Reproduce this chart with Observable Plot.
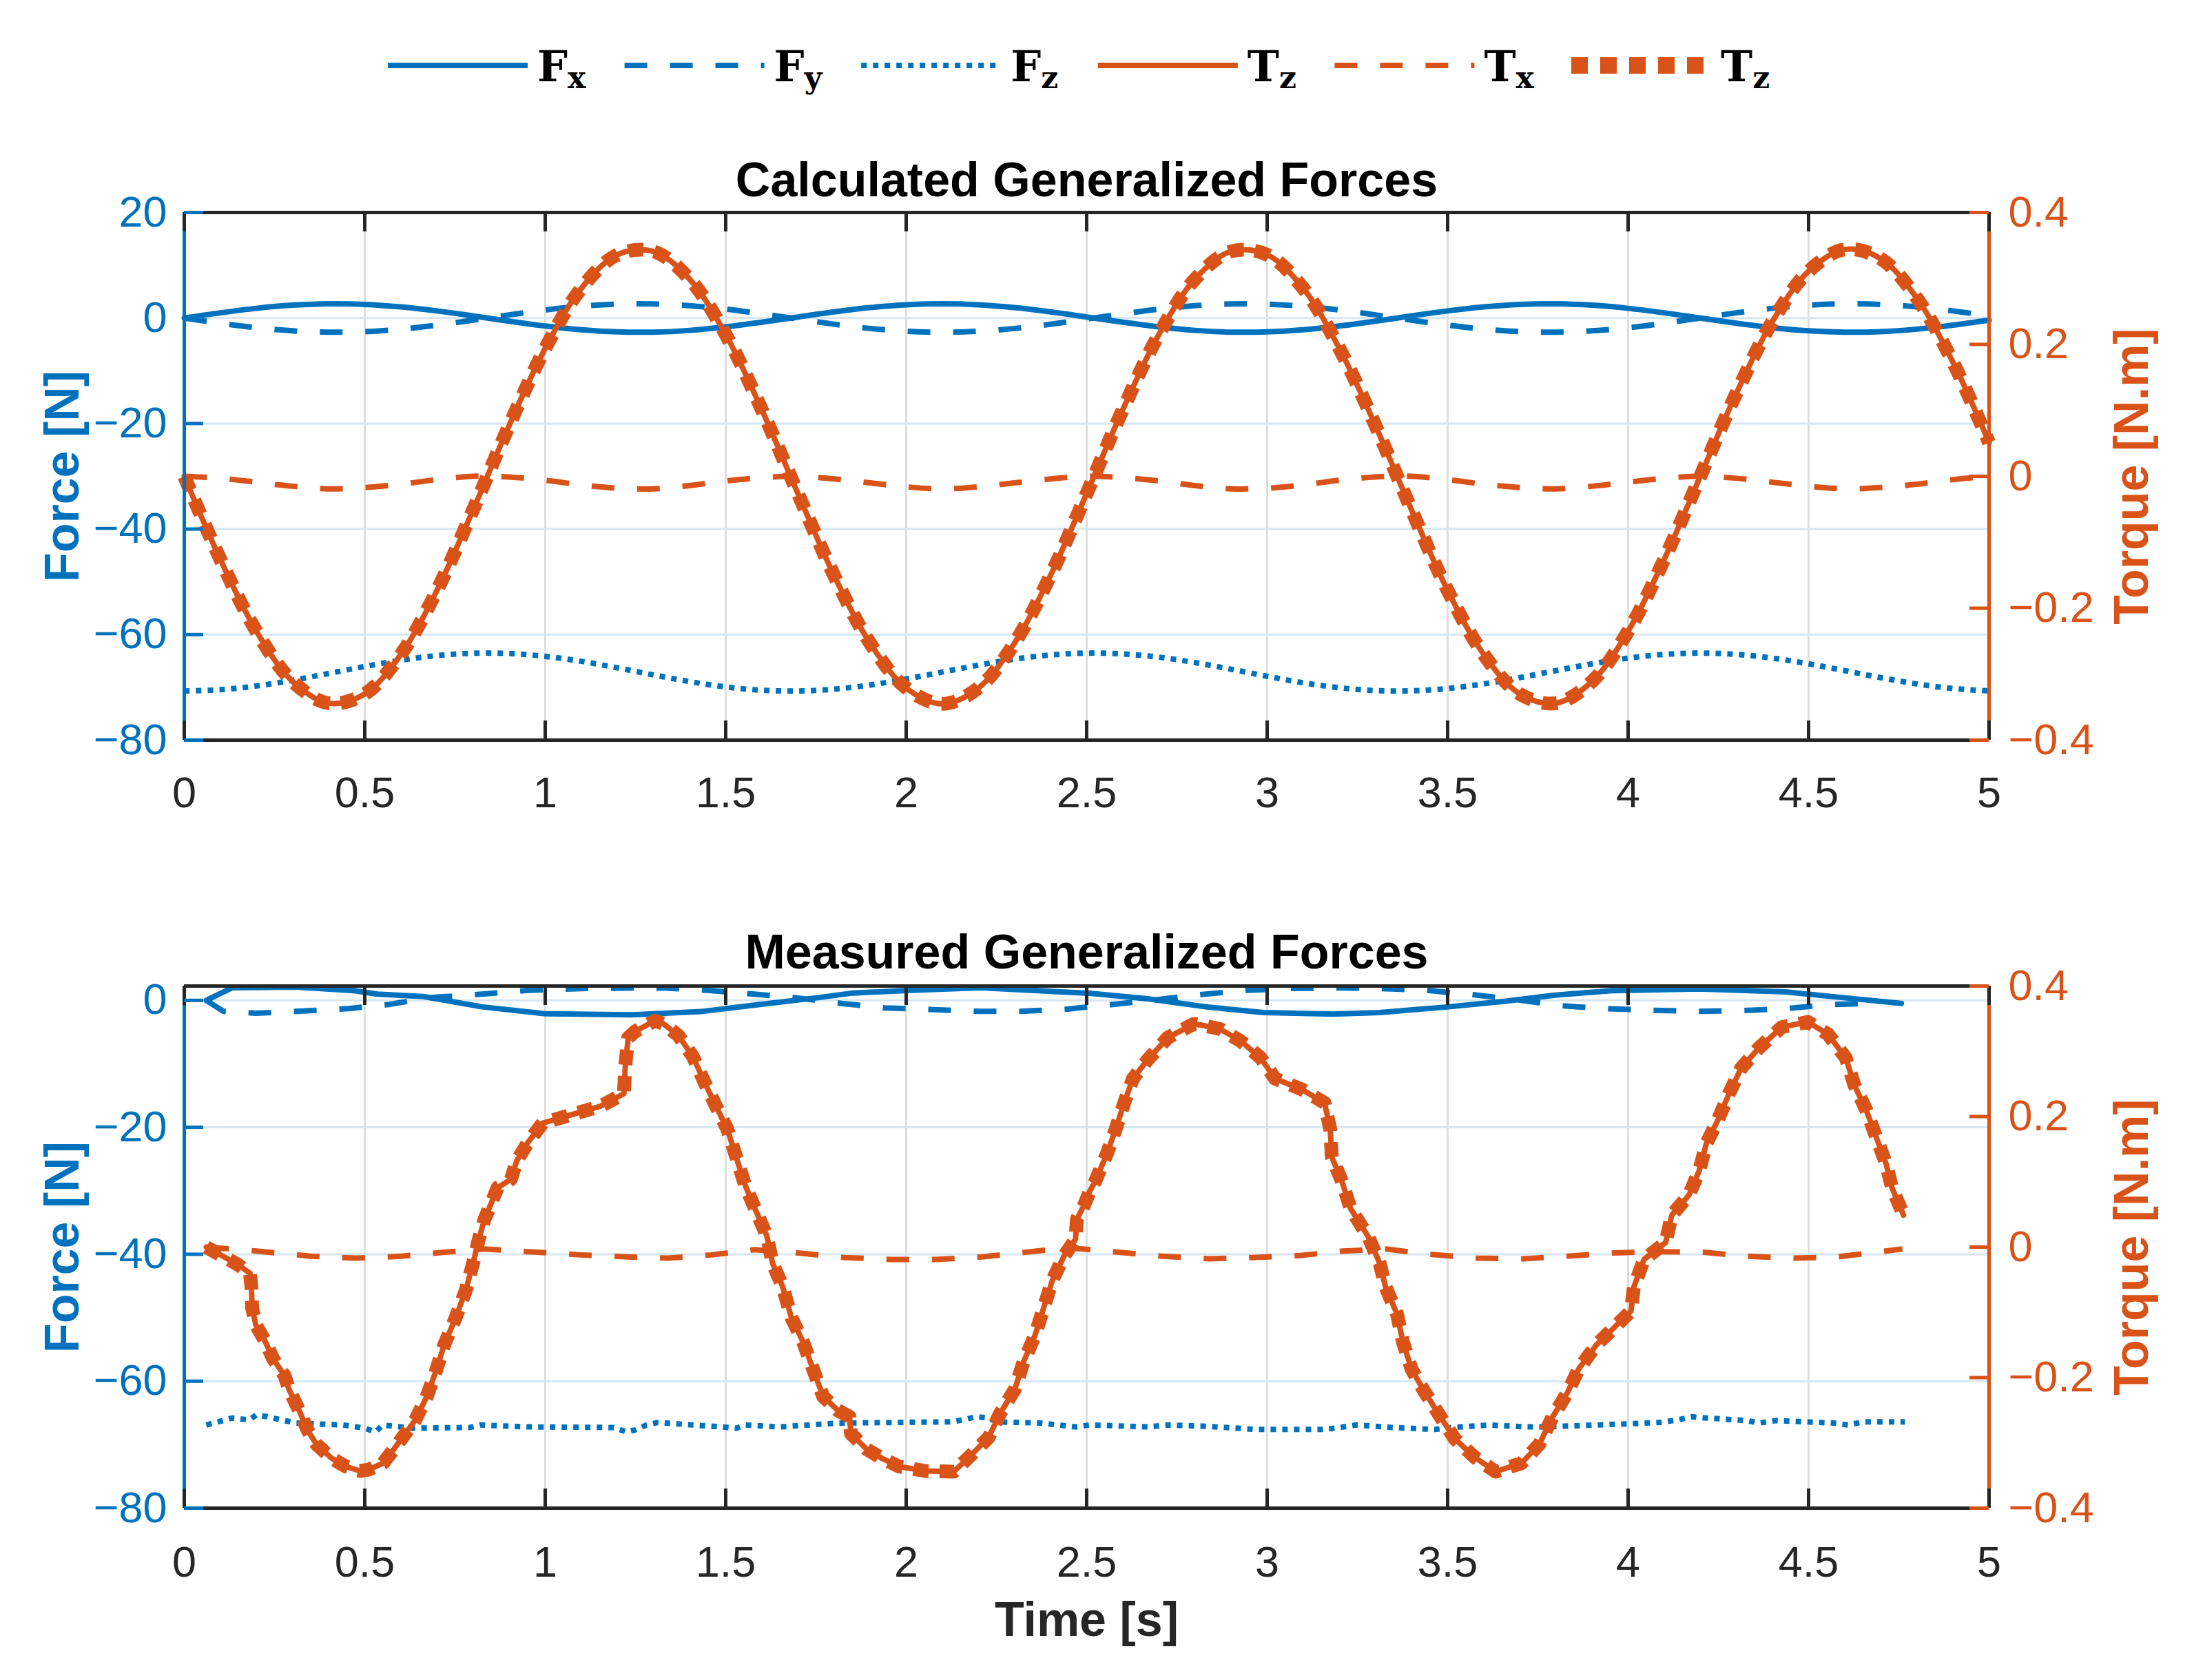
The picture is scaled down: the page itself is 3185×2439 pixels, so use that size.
<!DOCTYPE html>
<html><head><meta charset="utf-8">
<script src="https://cdn.jsdelivr.net/npm/d3@7"></script>
<script src="https://cdn.jsdelivr.net/npm/@observablehq/plot@0.6"></script>
<style>
html,body{margin:0;padding:0;background:#fff;}
#root{position:relative;width:3185px;height:2439px;background:#fff;overflow:hidden;font-family:"Liberation Sans",Arial,sans-serif;}
#root svg{position:absolute;left:0;}
</style></head><body><div id="root"></div>
<script>
const BLUE = "#0072BD", ORANGE = "#D95319", INK = "#262626";
const GRID_X = "#dedede", GRID_Y = "#d6e6f3";

// ---- ticks & domains ----
const timeTicks = [0, 0.5, 1, 1.5, 2, 2.5, 3, 3.5, 4, 4.5, 5];
const forceTicksTop = [-80, -60, -40, -20, 0, 20];
const forceTicksBottom = [-80, -60, -40, -20, 0];
const torqueTicks = [-0.4, -0.2, 0, 0.2, 0.4];
const forceDomainTop = [-80, 20];
const forceDomainBottom = [-80, 2.26];
const torqueDomain = [-0.4, 0.4];

// ---- legend labels ----
const legendBase = ["F", "F", "F", "T", "T", "T"];
const legendSub = ["x", "y", "z", "z", "x", "z"];
const titles = ["Calculated Generalized Forces", "Measured Generalized Forces"];

// ---- calculated (top panel) ----
const calcTime = [0,0.1,0.2,0.3,0.4,0.5,0.6,0.7,0.8,0.9,1.0,1.1,1.2,1.3,1.4,1.5,1.6,1.7,1.8,1.9,2.0,2.1,2.2,2.3,2.4,2.5,2.6,2.7,2.8,2.9,3.0,3.1,3.2,3.3,3.4,3.5,3.6,3.7,3.8,3.9,4.0,4.1,4.2,4.3,4.4,4.5,4.6,4.7,4.8,4.9,5.0];
const calcFx = [0,0.99,1.84,2.43,2.69,2.58,2.11,1.35,0.40,-0.60,-1.52,-2.23,-2.63,-2.67,-2.34,-1.68,-0.79,0.20,1.17,1.98,2.51,2.70,2.51,1.98,1.17,0.20,-0.79,-1.68,-2.34,-2.67,-2.63,-2.23,-1.52,-0.60,0.40,1.35,2.11,2.58,2.69,2.43,1.84,0.99,0,-0.99,-1.84,-2.43,-2.69,-2.58,-2.11,-1.35,-0.40];
const calcFy = [0,-0.99,-1.84,-2.43,-2.69,-2.58,-2.11,-1.35,-0.40,0.60,1.52,2.23,2.63,2.67,2.34,1.68,0.79,-0.20,-1.17,-1.98,-2.51,-2.70,-2.51,-1.98,-1.17,-0.20,0.79,1.68,2.34,2.67,2.63,2.23,1.52,0.60,-0.40,-1.35,-2.11,-2.58,-2.69,-2.43,-1.84,-0.99,0,0.99,1.84,2.43,2.69,2.58,2.11,1.35,0.40];
const calcFz = [-70.70,-70.45,-69.74,-68.66,-67.37,-66.04,-64.85,-63.98,-63.54,-63.59,-64.13,-65.07,-66.30,-67.64,-68.90,-69.92,-70.54,-70.69,-70.34,-69.55,-68.41,-67.10,-65.79,-64.65,-63.86,-63.51,-63.66,-64.28,-65.30,-66.56,-67.90,-69.13,-70.07,-70.61,-70.66,-70.22,-69.35,-68.16,-66.83,-65.54,-64.46,-63.75,-63.50,-63.75,-64.46,-65.54,-66.83,-68.16,-69.35,-70.22,-70.66];
const calcTz = [0,-0.126,-0.235,-0.311,-0.344,-0.330,-0.270,-0.173,-0.051,0.077,0.194,0.285,0.336,0.341,0.299,0.215,0.101,-0.026,-0.150,-0.253,-0.321,-0.345,-0.321,-0.253,-0.150,-0.026,0.101,0.215,0.299,0.341,0.336,0.285,0.194,0.077,-0.051,-0.173,-0.270,-0.330,-0.344,-0.311,-0.235,-0.126,0,0.126,0.235,0.311,0.344,0.330,0.270,0.173,0.051];
const calcTx = [0,-0.003,-0.009,-0.015,-0.019,-0.017,-0.012,-0.005,0,-0.001,-0.006,-0.013,-0.018,-0.019,-0.014,-0.007,-0.002,0,-0.004,-0.010,-0.016,-0.019,-0.016,-0.010,-0.004,0,-0.002,-0.007,-0.014,-0.019,-0.018,-0.013,-0.006,-0.001,0,-0.005,-0.012,-0.017,-0.019,-0.015,-0.009,-0.003,0,-0.003,-0.009,-0.015,-0.019,-0.017,-0.012,-0.005,0];

// ---- measured (bottom panel), [time, value] ----
const measFx = [[0.061,0],[0.133,2.0],[0.31,2.1],[0.471,1.52],[0.535,0.98],[0.663,0.61],[0.824,-1.01],[1.0,-2.1],[1.242,-2.28],[1.435,-1.74],[1.595,-0.65],[1.756,0.43],[1.852,1.16],[2.013,1.59],[2.206,2.0],[2.366,1.52],[2.508,1.12],[2.669,0.25],[2.829,-1.01],[2.99,-1.92],[3.183,-2.17],[3.311,-1.92],[3.504,-1.01],[3.665,-0.11],[3.793,0.80],[3.954,1.52],[4.195,1.81],[4.436,1.34],[4.596,0.43],[4.757,-0.47]];
const measFy = [[0.061,0],[0.109,-1.74],[0.198,-2.02],[0.31,-1.74],[0.455,-1.30],[0.567,-0.65],[0.68,0.43],[0.824,0.98],[0.953,1.59],[1.113,1.88],[1.322,1.95],[1.45,1.59],[1.579,0.98],[1.692,0.43],[1.82,-0.47],[1.94,-1.19],[2.077,-1.45],[2.206,-1.74],[2.318,-1.74],[2.447,-1.37],[2.572,-0.65],[2.70,0.14],[2.813,0.90],[2.942,1.59],[3.07,1.88],[3.199,1.95],[3.311,1.88],[3.44,1.59],[3.568,0.90],[3.697,0.07],[3.809,-0.83],[3.938,-1.30],[4.066,-1.55],[4.195,-1.74],[4.323,-1.59],[4.436,-1.30],[4.564,-0.65],[4.66,-0.5]];
const measFz = [[0.061,-66.9],[0.133,-65.8],[0.18,-66.1],[0.2,-65.3],[0.23,-65.6],[0.31,-66.6],[0.44,-66.9],[0.50,-67.4],[0.53,-68.0],[0.55,-66.9],[0.63,-67.4],[0.79,-67.3],[0.82,-66.9],[0.95,-67.2],[1.19,-67.3],[1.226,-68.0],[1.248,-67.7],[1.28,-66.9],[1.312,-66.5],[1.409,-66.9],[1.489,-67.2],[1.53,-67.4],[1.553,-66.9],[1.65,-67.2],[1.81,-66.6],[1.97,-66.5],[2.13,-66.4],[2.196,-65.6],[2.228,-65.8],[2.25,-66.4],[2.373,-66.6],[2.469,-67.2],[2.508,-66.9],[2.669,-67.2],[2.725,-66.9],[2.83,-67.1],[2.97,-67.6],[3.15,-67.6],[3.187,-67.4],[3.247,-66.9],[3.35,-67.3],[3.465,-67.6],[3.51,-67.3],[3.617,-66.9],[3.713,-67.2],[3.767,-67.2],[4.008,-66.7],[4.088,-66.5],[4.137,-66.1],[4.177,-65.6],[4.217,-65.8],[4.33,-66.2],[4.362,-66.6],[4.41,-66.2],[4.57,-66.6],[4.61,-66.9],[4.65,-66.4],[4.767,-66.4]];
const measTz = [[0.061,0.000],[0.149,-0.027],[0.182,-0.040],[0.186,-0.061],[0.188,-0.093],[0.198,-0.119],[0.222,-0.142],[0.246,-0.171],[0.278,-0.197],[0.290,-0.218],[0.318,-0.250],[0.342,-0.281],[0.366,-0.302],[0.407,-0.323],[0.447,-0.336],[0.487,-0.343],[0.511,-0.341],[0.551,-0.331],[0.591,-0.302],[0.640,-0.265],[0.672,-0.229],[0.696,-0.192],[0.720,-0.150],[0.752,-0.108],[0.780,-0.066],[0.800,-0.025],[0.816,0.012],[0.832,0.043],[0.848,0.064],[0.868,0.091],[0.905,0.104],[0.921,0.132],[0.953,0.161],[0.993,0.190],[1.074,0.203],[1.154,0.216],[1.218,0.235],[1.222,0.279],[1.230,0.321],[1.248,0.330],[1.304,0.347],[1.328,0.342],[1.369,0.324],[1.409,0.292],[1.441,0.253],[1.473,0.216],[1.505,0.180],[1.529,0.138],[1.553,0.096],[1.581,0.059],[1.614,0.017],[1.630,-0.025],[1.658,-0.061],[1.682,-0.108],[1.714,-0.145],[1.742,-0.187],[1.770,-0.229],[1.810,-0.250],[1.843,-0.260],[1.847,-0.286],[1.891,-0.310],[1.931,-0.323],[1.979,-0.336],[2.052,-0.343],[2.132,-0.344],[2.172,-0.323],[2.228,-0.292],[2.260,-0.255],[2.301,-0.218],[2.325,-0.176],[2.357,-0.135],[2.381,-0.093],[2.405,-0.051],[2.437,-0.014],[2.469,0.012],[2.473,0.043],[2.493,0.064],[2.508,0.085],[2.524,0.101],[2.556,0.143],[2.580,0.180],[2.604,0.221],[2.628,0.258],[2.669,0.287],[2.725,0.321],[2.797,0.342],[2.829,0.339],[2.870,0.334],[2.926,0.316],[2.982,0.290],[3.022,0.258],[3.095,0.242],[3.159,0.221],[3.175,0.180],[3.179,0.138],[3.207,0.101],[3.231,0.059],[3.279,0.017],[3.312,-0.025],[3.328,-0.061],[3.360,-0.103],[3.376,-0.145],[3.400,-0.187],[3.432,-0.218],[3.480,-0.260],[3.520,-0.294],[3.577,-0.323],[3.633,-0.344],[3.705,-0.331],[3.754,-0.302],[3.791,-0.260],[3.831,-0.224],[3.863,-0.187],[3.912,-0.150],[3.960,-0.124],[4.008,-0.098],[4.016,-0.061],[4.044,-0.019],[4.104,0.007],[4.121,0.049],[4.169,0.080],[4.197,0.117],[4.217,0.159],[4.249,0.195],[4.281,0.237],[4.313,0.274],[4.362,0.305],[4.426,0.337],[4.498,0.345],[4.554,0.326],[4.603,0.290],[4.627,0.248],[4.659,0.211],[4.687,0.169],[4.715,0.127],[4.731,0.091],[4.763,0.049]];
const measTx = [[0.061,0.000],[0.2,-0.006],[0.35,-0.014],[0.48,-0.017],[0.6,-0.014],[0.72,-0.008],[0.83,-0.003],[0.98,-0.008],[1.1,-0.012],[1.23,-0.015],[1.34,-0.017],[1.46,-0.012],[1.58,-0.004],[1.70,-0.009],[1.83,-0.016],[1.96,-0.019],[2.08,-0.019],[2.21,-0.015],[2.33,-0.008],[2.45,-0.001],[2.59,-0.008],[2.71,-0.014],[2.84,-0.018],[2.96,-0.016],[3.09,-0.013],[3.21,-0.006],[3.33,-0.003],[3.45,-0.011],[3.58,-0.017],[3.71,-0.018],[3.83,-0.014],[3.96,-0.009],[4.08,-0.007],[4.21,-0.008],[4.33,-0.014],[4.46,-0.017],[4.58,-0.015],[4.70,-0.007],[4.76,-0.003]];

// ---- styles (not data) ----
const lineStyles = [
  {stroke: BLUE, width: 8, dash: undefined, cap: "round"},
  {stroke: BLUE, width: 8, dash: "33,33", cap: "butt"},
  {stroke: BLUE, width: 8, dash: "8,9", cap: "butt"},
  {stroke: ORANGE, width: 8, dash: undefined, cap: "round"},
  {stroke: ORANGE, width: 8, dash: "33,33", cap: "butt"},
  {stroke: ORANGE, width: 20, dash: "22,16", cap: "butt"}
];
const FONT = "Liberation Sans, Arial, Helvetica, sans-serif";
const fmt = d3.format("");
const root = document.getElementById("root");

function panel(cfg) {
  const {top, mt, plotH, mb, forceDomain, forceTicks, series, curve, title, titleDy, tickPad, xLabel} = cfg;
  const W = 3185, ML = 267, MR = 298;
  const plotW = W - ML - MR;
  const H = mt + plotH + mb;
  const tScale = d3.scaleLinear(torqueDomain, forceDomain);
  const gridX = timeTicks.filter(v => v > 0 && v < 5);
  const gridY = forceTicks.filter(v => v > forceDomain[0] && v < forceDomain[1]);
  const marks = [
    Plot.ruleX(gridX, {x: d => d, stroke: GRID_X, strokeWidth: 3}),
    Plot.ruleY(gridY, {y: d => d, stroke: GRID_Y, strokeWidth: 3})
  ];
  series.forEach((s, i) => {
    const st = lineStyles[i];
    marks.push(Plot.line(s.data, {
      x: "t", y: s.torque ? (d => tScale(d.v)) : "v",
      stroke: st.stroke, strokeWidth: st.width, strokeDasharray: st.dash,
      strokeLinecap: st.cap, strokeLinejoin: "round", curve
    }));
  });
  marks.push(
    Plot.ruleY([forceDomain[0]], {y: d => d, stroke: INK, strokeWidth: 5}),
    Plot.ruleY([forceDomain[1]], {y: d => d, stroke: INK, strokeWidth: 5}),
    Plot.ruleX([0], {x: d => d, stroke: BLUE, strokeWidth: 5}),
    Plot.ruleX([5], {x: d => d, stroke: ORANGE, strokeWidth: 5}),
    Plot.tickX(timeTicks, {x: d => d, insetTop: plotH - 28, stroke: INK, strokeWidth: 5}),
    Plot.tickX(timeTicks, {x: d => d, insetBottom: plotH - 28, stroke: INK, strokeWidth: 5}),
    Plot.tickY(forceTicks, {y: d => d, insetRight: plotW - 28, stroke: BLUE, strokeWidth: 5}),
    Plot.tickY(torqueTicks.map(tScale), {y: d => d, insetLeft: plotW - 28, stroke: ORANGE, strokeWidth: 5}),
    Plot.axisX(timeTicks, {anchor: "bottom", tickSize: 0, tickPadding: tickPad, fontSize: 63, color: INK, fill: INK, tickFormat: fmt, label: null}),
    Plot.axisY(forceTicks, {anchor: "left", tickSize: 0, tickPadding: 25, fontSize: 63, color: BLUE, fill: BLUE, tickFormat: fmt, label: null}),
    Plot.axisY(torqueTicks.map(tScale), {anchor: "right", tickSize: 0, tickPadding: 28, fontSize: 63, color: ORANGE, fill: ORANGE,
      tickFormat: d => fmt(Math.round(tScale.invert(d) * 10) / 10 + 0), label: null}),
    Plot.text([title], {text: d => d, frameAnchor: "top", lineAnchor: "bottom", dy: titleDy, fontSize: 70, fontWeight: "bold", fill: "#000"}),
    Plot.text(["Force [N]"], {text: d => d, frameAnchor: "left", rotate: -90, dx: -176, fontSize: 70, fontWeight: "bold", fill: BLUE, textAnchor: "middle", lineAnchor: "middle"}),
    Plot.text(["Torque [N.m]"], {text: d => d, frameAnchor: "right", rotate: -90, dx: 208, fontSize: 70, fontWeight: "bold", fill: ORANGE, textAnchor: "middle", lineAnchor: "middle"})
  );
  if (xLabel) {
    marks.push(Plot.text([xLabel], {text: d => d, frameAnchor: "bottom", lineAnchor: "bottom", dy: 185, fontSize: 70, fontWeight: "bold", fill: INK}));
  }
  const svg = Plot.plot({
    width: W, height: H,
    marginLeft: ML, marginRight: MR, marginTop: mt, marginBottom: mb,
    style: {fontFamily: FONT, background: "transparent", overflow: "visible", maxWidth: "none"},
    x: {domain: [0, 5]},
    y: {domain: forceDomain},
    marks
  });
  svg.style.position = "absolute";
  svg.style.top = top + "px";
  svg.style.left = "0px";
  root.appendChild(svg);
}

const toObj = (ts, vs) => ts.map((t, i) => ({t, v: vs[i]}));
const pairs = arr => arr.map(([t, v]) => ({t, v}));

panel({
  top: 180, mt: 128, plotH: 766, mb: 130,
  forceDomain: forceDomainTop, forceTicks: forceTicksTop,
  curve: "catmull-rom", title: titles[0], titleDy: -24, tickPad: 53,
  series: [
    {data: toObj(calcTime, calcFx)},
    {data: toObj(calcTime, calcFy)},
    {data: toObj(calcTime, calcFz)},
    {data: toObj(calcTime, calcTz), torque: true},
    {data: toObj(calcTime, calcTx), torque: true},
    {data: toObj(calcTime, calcTz), torque: true}
  ]
});

panel({
  top: 1300, mt: 131, plotH: 758, mb: 250,
  forceDomain: forceDomainBottom, forceTicks: forceTicksBottom,
  curve: "linear", title: titles[1], titleDy: -26, tickPad: 55, xLabel: "Time [s]",
  series: [
    {data: pairs(measFx)},
    {data: pairs(measFy)},
    {data: pairs(measFz)},
    {data: pairs(measTz), torque: true},
    {data: pairs(measTx), torque: true},
    {data: pairs(measTz), torque: true}
  ]
});

// ---- legend ----
const leg = d3.select(root).append("svg")
  .attr("width", 3185).attr("height", 180)
  .style("position", "absolute").style("top", "0px").style("left", "0px");
legendBase.forEach((b, i) => {
  const x0 = 563 + i * 343.6;
  const st = lineStyles[i];
  const legendDash = i === 5 ? "24,18" : st.dash;
  const legendWidth = i === 5 ? 24 : st.width;
  leg.append("line")
    .attr("x1", x0).attr("x2", x0 + 203).attr("y1", 95).attr("y2", 95)
    .attr("stroke", st.stroke).attr("stroke-width", legendWidth)
    .attr("stroke-dasharray", legendDash || null).attr("stroke-linecap", "butt");
  const t = leg.append("text")
    .attr("x", x0 + 217).attr("y", 118)
    .attr("font-family", "DejaVu Serif, Liberation Serif, serif")
    .attr("font-weight", "bold").attr("font-size", 62).attr("fill", "#000");
  t.append("tspan").text(b);
  t.append("tspan").attr("dy", 10).attr("font-size", 44).text(legendSub[i]);
});
</script>
</body></html>
